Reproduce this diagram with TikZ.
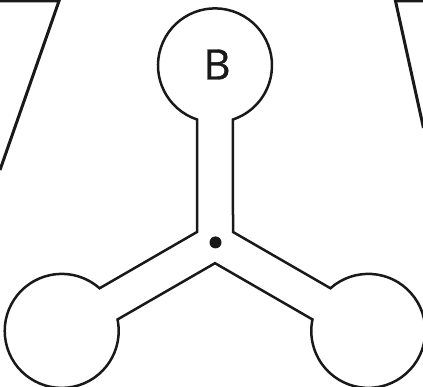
\documentclass[tikz,border=0pt]{standalone}
\usepackage{fontspec}
\setmainfont{Open Sans}
\newfontfamily\letterfont[FakeBold=0.8]{Open Sans}
\begin{document}
\begin{tikzpicture}[x=1pt,y=1pt,
  outline/.style={line width=2.5pt,line join=miter,draw=black!90},
  frame/.style={line width=3pt,draw=black!90,line join=miter},
  hubdot/.style={circle,fill=black!90,inner sep=0pt,minimum size=12pt},
  letter/.style={font=\letterfont\fontsize{42}{42}\selectfont,text=black!90,inner sep=0pt}]
\useasboundingbox (0,0) rectangle (423,386);

% corners of the three-armed outline (centre of the junction at (215,143.6))
\coordinate (tl) at (197,154.0);
\coordinate (tu) at (197,266.52);
\coordinate (tr) at (233,154.0);
\coordinate (ru) at (330.45,97.73);
\coordinate (bv) at (215,122.81);
\coordinate (lu) at (117.55,66.55);

% the outline: stem and arms ending in round bulbs of radius 57
\draw[outline] (tl) -- (tu)
  arc[start angle=251.6,end angle=-71.6,radius=57] -- (tr)
  -- (ru) arc[start angle=131.6,end angle=-191.6,radius=57] -- (bv)
  -- (lu) arc[start angle=371.6,end angle=48.4,radius=57] -- cycle;

% junction dot and bulb label
\node[hubdot] (hub) at (215.5,143.6) {};
\node[letter] (b) at (217,321.5) {B};

% edges of neighbouring shapes cut by the border
\coordinate (la) at (0,385);
\coordinate (lb) at (59,385);
\coordinate (lc) at (0,216);
\draw[frame] (la) -- (lb) -- (lc);
\coordinate (ra) at (423,385);
\coordinate (rb) at (395.5,385);
\coordinate (rc) at (423.5,258);
\draw[frame] (ra) -- (rb) -- (rc);
\end{tikzpicture}
\end{document}
